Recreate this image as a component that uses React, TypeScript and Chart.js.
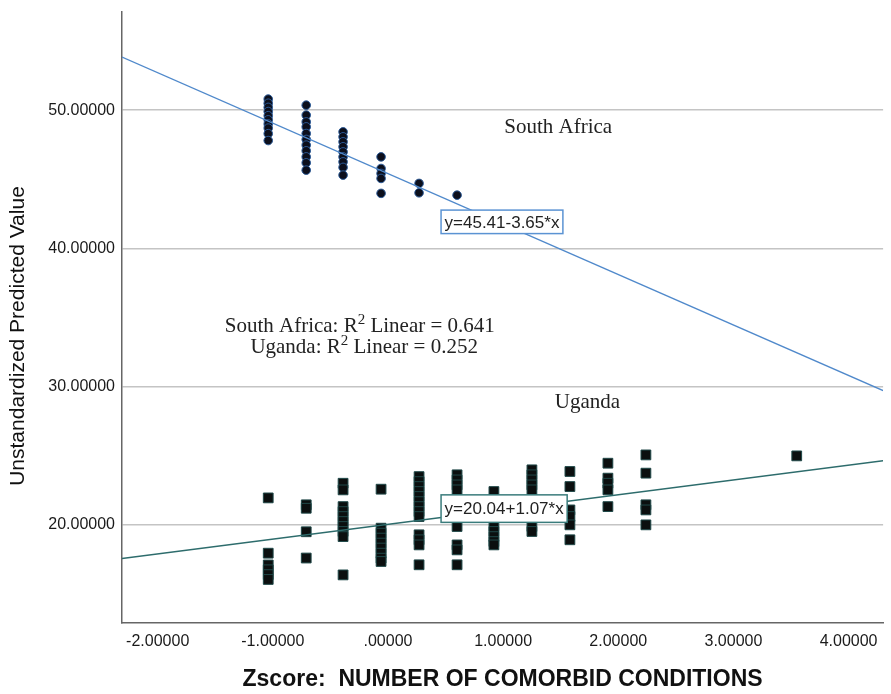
import React, { useEffect, useRef } from "react";
import { Chart, registerables } from "chart.js";

Chart.register(...registerables);

// ---- data ----
const xTicks = [-2, -1, 0, 1, 2, 3, 4];
const yTicks = [20, 30, 40, 50];
const xRange = [-2.31, 4.3];
const yRange = [12.9, 57.1];

// z-score levels of the comorbidity count
const zLevels = [-1.04, -0.71, -0.39, -0.06, 0.27, 0.6, 0.92, 1.25, 1.58, 1.91, 2.24, 3.55];

// South Africa predicted values, grouped by z level (index into zLevels)
const southAfricaL0 = [50.8, 50.5, 50.2, 49.9, 49.6, 49.3, 49.0, 48.7, 48.3, 47.8];
const southAfricaL1 = [50.36, 49.64, 49.15, 48.79, 48.31, 47.88, 47.47, 47.06, 46.62, 46.19, 45.66];
const southAfricaL2 = [48.43, 48.07, 47.71, 47.35, 46.98, 46.62, 46.26, 45.86, 45.3];
const southAfricaL3 = [46.62, 45.78, 45.42, 45.06, 43.98];
const southAfricaL4 = [44.7, 44.02];
const southAfricaL5 = [43.85];

// Uganda predicted values, grouped by z level
const ugandaL0 = [21.95, 17.95, 17.1, 16.75, 16.4, 16.05];
const ugandaL1 = [21.45, 21.2, 19.5, 17.6];
const ugandaL2 = [23.01, 22.53, 21.32, 20.96, 20.6, 20.24, 19.88, 19.52, 19.15, 16.38];
const ugandaL3 = [22.58, 19.76, 19.4, 19.04, 18.68, 18.32, 17.95, 17.59, 17.35];
const ugandaL4 = [23.49, 23.13, 22.77, 22.41, 22.05, 21.68, 21.32, 20.96, 20.6, 19.28, 18.92, 18.55, 17.11];
const ugandaL5 = [23.62, 23.25, 22.89, 22.53, 21.5, 20.8, 19.88, 18.55, 18.19, 17.11];
const ugandaL6 = [22.41, 21.3, 19.88, 19.52, 19.15, 18.79, 18.55];
const ugandaL7 = [23.98, 23.62, 23.25, 22.89, 22.53, 19.88, 19.52];
const ugandaL8 = [23.86, 22.77, 21.08, 20.6, 20.0, 18.92];
const ugandaL9 = [24.46, 23.38, 23.01, 22.53, 21.32];
const ugandaL10 = [25.06, 23.74, 21.45, 21.08, 20.0];
const ugandaL11 = [24.99];

// fit lines
const southAfricaFit = { intercept: 45.41, slope: -3.65, label: "y=45.41-3.65*x" };
const ugandaFit = { intercept: 20.04, slope: 1.07, label: "y=20.04+1.07*x" };
const rSquared = { southAfrica: "0.641", uganda: "0.252" };

const southAfricaGroups = [southAfricaL0, southAfricaL1, southAfricaL2, southAfricaL3, southAfricaL4, southAfricaL5];
const ugandaGroups = [ugandaL0, ugandaL1, ugandaL2, ugandaL3, ugandaL4, ugandaL5, ugandaL6, ugandaL7, ugandaL8, ugandaL9, ugandaL10, ugandaL11];

const toPoints = (groups: number[][]) =>
  groups.flatMap((vals, i) => vals.map((v) => ({ x: zLevels[i], y: v })));

const fitPoints = (f: { intercept: number; slope: number }) =>
  xRange.map((x) => ({ x, y: f.intercept + f.slope * x }));

const fmt = (v: number) => {
  const s = Math.abs(v).toFixed(5);
  const t = Math.abs(v) < 1 ? s.slice(1) : s;
  return (v < 0 ? "-" : "") + t;
};

const SANS = "'Liberation Sans', Arial, sans-serif";
const SERIF = "'Liberation Serif', 'Times New Roman', serif";

const annotations = {
  id: "annotations",
  afterDraw(chart: any) {
    const ctx = chart.ctx;
    const xs = chart.scales.x;
    const ys = chart.scales.y;
    const ca = chart.chartArea;
    ctx.save();

    // equation boxes
    const box = (label: string, xv: number, yTop: number, yBot: number, color: string) => {
      const left = xs.getPixelForValue(xv);
      const top = ys.getPixelForValue(yTop);
      const bot = ys.getPixelForValue(yBot);
      ctx.font = `17px ${SANS}`;
      const w = ctx.measureText(label).width + 7;
      ctx.fillStyle = "#ffffff";
      ctx.fillRect(left, top, w, bot - top);
      ctx.strokeStyle = color;
      ctx.lineWidth = 1.5;
      ctx.strokeRect(left, top, w, bot - top);
      ctx.fillStyle = "#222";
      ctx.textAlign = "left";
      ctx.textBaseline = "middle";
      ctx.fillText(label, left + 3.5, (top + bot) / 2 + 1);
    };
    box(southAfricaFit.label, 0.461, 42.77, 41.07, "#5b93d3");
    box(ugandaFit.label, 0.461, 22.17, 20.18, "#3a7c7c");

    // group labels
    ctx.fillStyle = "#222";
    ctx.font = `21px ${SERIF}`;
    ctx.textAlign = "center";
    ctx.textBaseline = "alphabetic";
    ctx.fillText("South Africa", xs.getPixelForValue(1.478), ys.getPixelForValue(48.32));
    ctx.fillText("Uganda", xs.getPixelForValue(1.733), ys.getPixelForValue(28.44));

    // R squared lines
    const rLine = (pre: string, post: string, cx: number, by: number) => {
      ctx.textAlign = "left";
      ctx.font = `21px ${SERIF}`;
      const w1 = ctx.measureText(pre).width;
      const w3 = ctx.measureText(post).width;
      ctx.font = `15px ${SERIF}`;
      const w2 = ctx.measureText("2").width;
      const px = xs.getPixelForValue(cx);
      const py = ys.getPixelForValue(by);
      let x0 = px - (w1 + w2 + w3) / 2;
      ctx.font = `21px ${SERIF}`;
      ctx.fillText(pre, x0, py);
      ctx.font = `15px ${SERIF}`;
      ctx.fillText("2", x0 + w1, py - 8);
      ctx.font = `21px ${SERIF}`;
      ctx.fillText(post, x0 + w1 + w2, py);
    };
    rLine("South Africa: R", " Linear = " + rSquared.southAfrica, -0.245, 33.98);
    rLine("Uganda: R", " Linear = " + rSquared.uganda, -0.207, 32.42);

    // axis titles
    ctx.fillStyle = "#111";
    ctx.textAlign = "center";
    ctx.textBaseline = "middle";
    ctx.font = `bold 23px ${SANS}`;
    ctx.fillText("Zscore:  NUMBER OF COMORBID CONDITIONS", (ca.left + ca.right) / 2, 680);
    ctx.save();
    ctx.translate(18, 336);
    ctx.rotate(-Math.PI / 2);
    ctx.font = `21px ${SANS}`;
    ctx.fillText("Unstandardized Predicted Value", 0, 0);
    ctx.restore();

    ctx.restore();
  },
};

export default function App() {
  const ref = useRef<HTMLCanvasElement | null>(null);
  useEffect(() => {
    document.body.style.margin = "0";
    const canvas = ref.current!;
    const chart = new Chart(canvas, {
      type: "scatter",
      data: {
        datasets: [
          {
            type: "line",
            data: fitPoints(southAfricaFit),
            borderColor: "#5089cb",
            borderWidth: 1.4,
            pointRadius: 0,
            fill: false,
            order: 0,
          } as any,
          {
            type: "line",
            data: fitPoints(ugandaFit),
            borderColor: "#2d6c6c",
            borderWidth: 1.4,
            pointRadius: 0,
            fill: false,
            order: 0,
          } as any,
          {
            data: toPoints(southAfricaGroups),
            pointStyle: "circle",
            pointRadius: 4.3,
            backgroundColor: "#0c0f1c",
            borderColor: "#2b5a98",
            borderWidth: 1,
            order: 1,
          },
          {
            data: toPoints(ugandaGroups),
            pointStyle: "rect",
            pointRadius: 6.9,
            backgroundColor: "#0b0f0f",
            borderColor: "#1f4848",
            borderWidth: 1,
            order: 1,
          },
        ],
      },
      options: {
        animation: false,
        responsive: false,
        layout: { padding: { top: 12, right: 0, left: 0, bottom: 0 } },
        plugins: { legend: { display: false }, tooltip: { enabled: false } },
        scales: {
          x: {
            type: "linear",
            min: xRange[0],
            max: xRange[1],
            afterBuildTicks: (s: any) => {
              s.ticks = xTicks.map((v) => ({ value: v }));
            },
            afterFit: (s: any) => {
              s.height = 71;
              s.paddingLeft = 0;
              s.paddingRight = 0;
            },
            grid: { display: false, drawTicks: false },
            border: { display: true, color: "#666", width: 1.5 },
            ticks: {
              padding: 9,
              color: "#1a1a1a",
              font: { family: SANS, size: 16 },
              maxRotation: 0,
              callback: (v: any) => fmt(Number(v)),
            },
          },
          y: {
            type: "linear",
            min: yRange[0],
            max: yRange[1],
            afterBuildTicks: (s: any) => {
              s.ticks = yTicks.map((v) => ({ value: v }));
            },
            afterFit: (s: any) => {
              s.width = 122;
              s.paddingTop = 0;
              s.paddingBottom = 0;
            },
            grid: { display: true, drawTicks: false, color: "#c4c4c4", lineWidth: 1.5 },
            border: { display: true, color: "#666", width: 1.5 },
            ticks: {
              padding: 7,
              color: "#1a1a1a",
              font: { family: SANS, size: 16 },
              callback: (v: any) => fmt(Number(v)),
            },
          },
        },
      },
      plugins: [annotations],
    });
    return () => chart.destroy();
  }, []);
  return (
    <div style={{ width: 891, height: 694 }}>
      <canvas ref={ref} width={891} height={694} />
    </div>
  );
}
